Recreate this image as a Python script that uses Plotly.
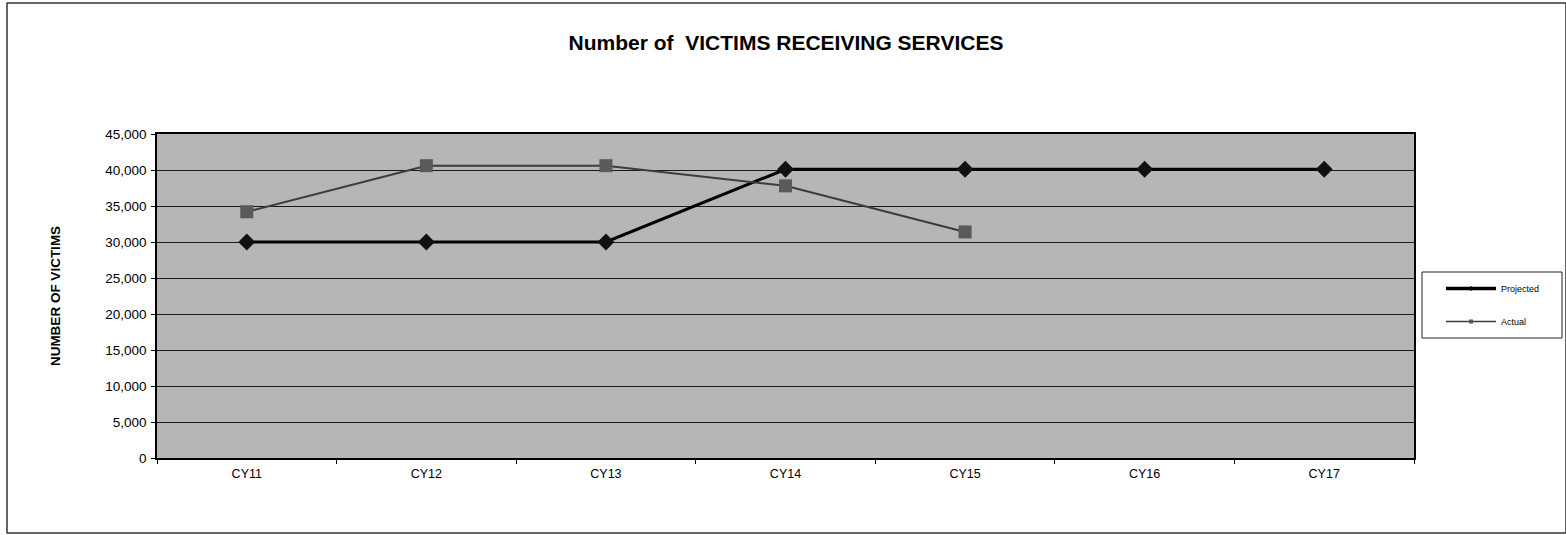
import plotly.graph_objects as go

categories = ["CY11", "CY12", "CY13", "CY14", "CY15", "CY16", "CY17"]
projected = [30000, 30000, 30000, 40100, 40100, 40100, 40100]
actual = [34200, 40600, 40600, 37800, 31400]

fig = go.Figure()
fig.add_trace(go.Scatter(
    x=categories, y=projected, name="Projected", mode="lines+markers",
    showlegend=False,
    line=dict(color="#000000", width=3),
    marker=dict(symbol="diamond", size=13, color="#111111"),
))
fig.add_trace(go.Scatter(
    x=categories[:len(actual)], y=actual, name="Actual", mode="lines+markers",
    showlegend=False,
    line=dict(color="#3c3c3c", width=2),
    marker=dict(symbol="square", size=13, color="#5a5a5a"),
))
# legend entries (small symbols, as in the original legend)
fig.add_trace(go.Scatter(
    x=[None], y=[None], name="Projected", mode="lines+markers", legendgroup="p",
    line=dict(color="#000000", width=3.5),
    marker=dict(symbol="diamond", size=4, color="#000000"),
))
fig.add_trace(go.Scatter(
    x=[None], y=[None], name="Actual", mode="lines+markers", legendgroup="a",
    line=dict(color="#3c3c3c", width=1.5),
    marker=dict(symbol="square", size=4, color="#555555"),
))

W, H = 1566, 535
L, R, T, B = 157, W - 1414, 134, H - 458
pw = W - L - R
ph = H - T - B

fig.update_layout(
    width=W, height=H,
    margin=dict(l=L, r=R, t=T, b=B),
    paper_bgcolor="white",
    plot_bgcolor="#b6b6b6",
    font=dict(family="Liberation Sans, Arial, sans-serif", color="#000000", size=12),
    title=dict(text="<b>Number of  VICTIMS RECEIVING SERVICES</b>",
               x=786 / W, xanchor="center", y=1 - 43 / H, yanchor="middle",
               font=dict(size=21, color="#000000")),
    showlegend=True,
    legend=dict(
        x=(1441 - L) / pw, y=(458 - 274) / ph, xanchor="left", yanchor="top",
        bgcolor="rgba(0,0,0,0)", borderwidth=0,
        font=dict(size=9), itemwidth=50, tracegroupgap=14,
    ),
    xaxis=dict(
        type="category", showgrid=False, showline=True, linecolor="#000000",
        linewidth=1.5, mirror=True, ticks="outside", tickson="boundaries",
        ticklen=4, tickcolor="#000000", range=[-0.5, 6.5],
        tickfont=dict(size=12.5), ticklabelstandoff=3,
    ),
    yaxis=dict(
        range=[0, 45000], dtick=5000, tickformat=",", showgrid=True,
        gridcolor="#1a1a1a", gridwidth=1, showline=True, linecolor="#000000",
        linewidth=1.5, mirror=True, ticks="outside", ticklen=4,
        tickcolor="#000000", zeroline=False, tickfont=dict(size=13.5),
        ticklabelstandoff=2,
        title=dict(text="<b>NUMBER OF VICTIMS</b>", font=dict(size=13.5), standoff=42),
    ),
    shapes=[
        dict(
            type="rect", xref="paper", yref="paper",
            x0=(7 - L) / pw, x1=(1566 - L) / pw,
            y0=(458 - 533) / ph, y1=(458 - 3) / ph,
            line=dict(color="#333333", width=1.5), fillcolor="rgba(0,0,0,0)",
            layer="below",
        ),
        dict(
            type="rect", xref="paper", yref="paper",
            x0=(1422 - L) / pw, x1=(1562 - L) / pw,
            y0=(458 - 338) / ph, y1=(458 - 272) / ph,
            line=dict(color="#222222", width=1), fillcolor="white",
            layer="below",
        ),
    ],
)

fig.write_html("out.html", config={"displayModeBar": False},
               post_script="document.body.style.margin='0';")
